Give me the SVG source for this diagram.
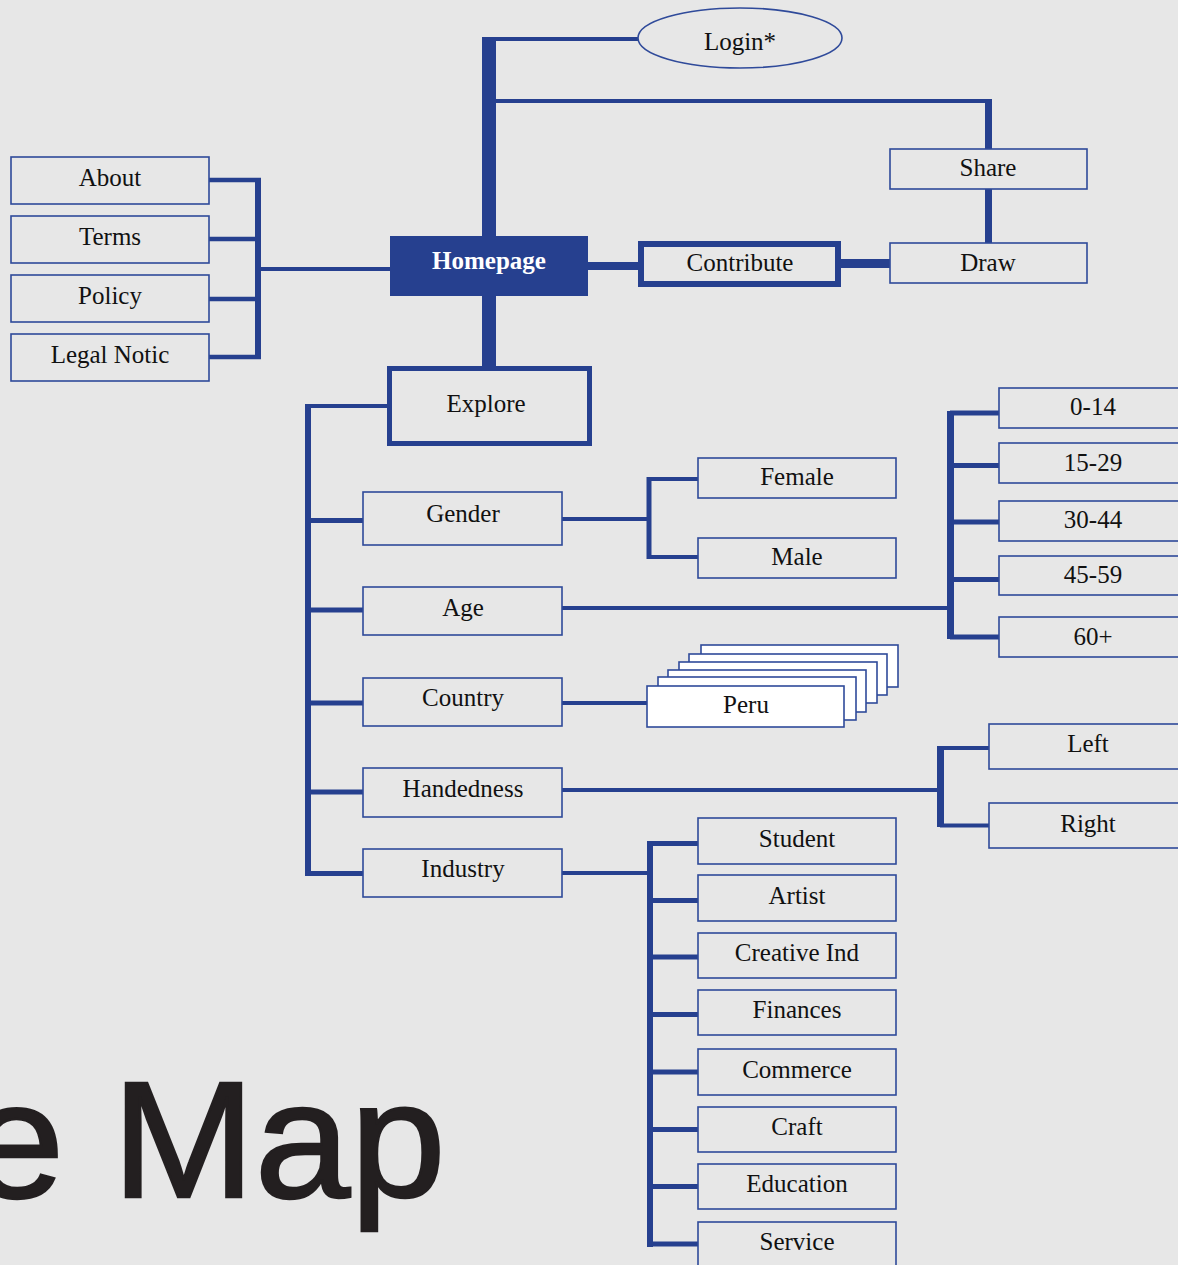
<svg xmlns="http://www.w3.org/2000/svg" width="1178" height="1265" viewBox="0 0 1178 1265">
<style>
.bg{fill:#e7e7e7}
.box{fill:none;stroke:#2f4a9a;stroke-width:1.6}
.card{fill:#ffffff;stroke:#2f4a9a;stroke-width:1.6}
.t{font-family:"Liberation Serif","Times New Roman",serif;font-size:25px;fill:#111;text-anchor:middle}
.c{stroke:#26408f;fill:none;stroke-linecap:butt}
.big{font-family:"Liberation Sans",Arial,sans-serif;font-size:165px;fill:#231f20;stroke:#231f20;stroke-width:2.5}
</style>
<rect class="bg" x="0" y="0" width="1178" height="1265"/>

<g id="connectors">
  <line class="c" x1="489" y1="37" x2="489" y2="237" stroke-width="14"/>
  <line class="c" x1="482" y1="39" x2="638" y2="39" stroke-width="4"/>
  <polyline class="c" points="489,101 988.5,101 988.5,149" stroke-width="4"/>
  <line class="c" x1="988.5" y1="99" x2="988.5" y2="149" stroke-width="7"/>
  <line class="c" x1="988.5" y1="189" x2="988.5" y2="243" stroke-width="7"/>
  <line class="c" x1="588" y1="266" x2="638" y2="266" stroke-width="8"/>
  <line class="c" x1="841" y1="263.5" x2="890" y2="263.5" stroke-width="9"/>
  <line class="c" x1="489" y1="296" x2="489" y2="367" stroke-width="14"/>
  <line class="c" x1="258" y1="269" x2="390" y2="269" stroke-width="4"/>
  <line class="c" x1="258" y1="178" x2="258" y2="359" stroke-width="6"/>
  <line class="c" x1="209" y1="180" x2="261" y2="180" stroke-width="4.5"/>
  <line class="c" x1="209" y1="239" x2="261" y2="239" stroke-width="4.5"/>
  <line class="c" x1="209" y1="299" x2="261" y2="299" stroke-width="4.5"/>
  <line class="c" x1="209" y1="357" x2="261" y2="357" stroke-width="4.5"/>
  <line class="c" x1="308" y1="404" x2="308" y2="876" stroke-width="6"/>
  <line class="c" x1="305" y1="406" x2="388" y2="406" stroke-width="4"/>
  <line class="c" x1="308" y1="520.5" x2="363" y2="520.5" stroke-width="5"/>
  <line class="c" x1="308" y1="610" x2="363" y2="610" stroke-width="5"/>
  <line class="c" x1="308" y1="703" x2="363" y2="703" stroke-width="5"/>
  <line class="c" x1="308" y1="792" x2="363" y2="792" stroke-width="5"/>
  <line class="c" x1="308" y1="873.5" x2="363" y2="873.5" stroke-width="5"/>
  <line class="c" x1="562" y1="519" x2="650" y2="519" stroke-width="4"/>
  <line class="c" x1="649" y1="477" x2="649" y2="559" stroke-width="5"/>
  <line class="c" x1="649" y1="479" x2="698" y2="479" stroke-width="4"/>
  <line class="c" x1="649" y1="557" x2="698" y2="557" stroke-width="4"/>
  <line class="c" x1="562" y1="608" x2="951" y2="608" stroke-width="4"/>
  <line class="c" x1="950.5" y1="411" x2="950.5" y2="639" stroke-width="7"/>
  <line class="c" x1="950" y1="413" x2="999" y2="413" stroke-width="5"/>
  <line class="c" x1="950" y1="465.5" x2="999" y2="465.5" stroke-width="5"/>
  <line class="c" x1="950" y1="522" x2="999" y2="522" stroke-width="5"/>
  <line class="c" x1="950" y1="579.5" x2="999" y2="579.5" stroke-width="5"/>
  <line class="c" x1="950" y1="637" x2="999" y2="637" stroke-width="5"/>
  <line class="c" x1="562" y1="703" x2="648" y2="703" stroke-width="4"/>
  <line class="c" x1="562" y1="790" x2="941" y2="790" stroke-width="4"/>
  <line class="c" x1="940.5" y1="746" x2="940.5" y2="827" stroke-width="7"/>
  <line class="c" x1="940" y1="748" x2="989" y2="748" stroke-width="4"/>
  <line class="c" x1="940" y1="825.5" x2="989" y2="825.5" stroke-width="4"/>
  <line class="c" x1="562" y1="873" x2="650" y2="873" stroke-width="4"/>
  <line class="c" x1="650" y1="841" x2="650" y2="1247" stroke-width="6"/>
  <line class="c" x1="650" y1="843.5" x2="698" y2="843.5" stroke-width="5"/>
  <line class="c" x1="650" y1="900.5" x2="698" y2="900.5" stroke-width="5"/>
  <line class="c" x1="650" y1="957" x2="698" y2="957" stroke-width="5"/>
  <line class="c" x1="650" y1="1014.5" x2="698" y2="1014.5" stroke-width="5"/>
  <line class="c" x1="650" y1="1072" x2="698" y2="1072" stroke-width="5"/>
  <line class="c" x1="650" y1="1129.5" x2="698" y2="1129.5" stroke-width="5"/>
  <line class="c" x1="650" y1="1186.5" x2="698" y2="1186.5" stroke-width="5"/>
  <line class="c" x1="650" y1="1244" x2="698" y2="1244" stroke-width="5"/>
</g>

<g id="login"><ellipse cx="740" cy="38" rx="102" ry="30" class="box" stroke-width="1.3"/><text class="t" x="740" y="50">Login*</text></g>
<g id="homepage"><rect x="390" y="236" width="198" height="60" fill="#26408f"/><text class="t" x="489" y="269" font-weight="bold" style="fill:#fff">Homepage</text></g>
<g id="contribute"><rect x="641" y="244" width="197" height="40" fill="none" stroke="#26408f" stroke-width="6"/><text class="t" x="740" y="271">Contribute</text></g>
<g id="share"><rect class="box" x="890" y="149" width="197" height="40"/><text class="t" x="988" y="176">Share</text></g>
<g id="draw"><rect class="box" x="890" y="243" width="197" height="40"/><text class="t" x="988" y="271">Draw</text></g>

<g id="about"><rect class="box" x="11" y="157" width="198" height="47"/><text class="t" x="110" y="186">About</text></g>
<g id="terms"><rect class="box" x="11" y="216" width="198" height="47"/><text class="t" x="110" y="245">Terms</text></g>
<g id="policy"><rect class="box" x="11" y="275" width="198" height="47"/><text class="t" x="110" y="304">Policy</text></g>
<g id="legal"><rect class="box" x="11" y="334" width="198" height="47"/><text class="t" x="110" y="363">Legal Notic</text></g>

<g id="explore"><rect x="389.5" y="368.5" width="200" height="75" fill="none" stroke="#26408f" stroke-width="5"/><text class="t" x="486" y="412">Explore</text></g>
<g id="gender"><rect class="box" x="363" y="492" width="199" height="53"/><text class="t" x="463" y="522">Gender</text></g>
<g id="age"><rect class="box" x="363" y="587" width="199" height="48"/><text class="t" x="463" y="616">Age</text></g>
<g id="country"><rect class="box" x="363" y="678" width="199" height="48"/><text class="t" x="463" y="706">Country</text></g>
<g id="handedness"><rect class="box" x="363" y="768" width="199" height="49"/><text class="t" x="463" y="797">Handedness</text></g>
<g id="industry"><rect class="box" x="363" y="849" width="199" height="48"/><text class="t" x="463" y="877">Industry</text></g>

<g id="female"><rect class="box" x="698" y="458" width="198" height="40"/><text class="t" x="797" y="485">Female</text></g>
<g id="male"><rect class="box" x="698" y="538" width="198" height="40"/><text class="t" x="797" y="565">Male</text></g>

<g id="age-0-14"><rect class="box" x="999" y="388" width="198" height="40"/><text class="t" x="1093" y="415">0-14</text></g>
<g id="age-15-29"><rect class="box" x="999" y="443" width="198" height="40"/><text class="t" x="1093" y="471">15-29</text></g>
<g id="age-30-44"><rect class="box" x="999" y="501" width="198" height="40"/><text class="t" x="1093" y="528">30-44</text></g>
<g id="age-45-59"><rect class="box" x="999" y="556" width="198" height="39"/><text class="t" x="1093" y="583">45-59</text></g>
<g id="age-60"><rect class="box" x="999" y="617" width="198" height="40"/><text class="t" x="1093" y="645">60+</text></g>

<g id="peru">
  <rect class="card" x="701" y="645" width="197" height="42"/>
  <rect class="card" x="689" y="654" width="198" height="41"/>
  <rect class="card" x="679" y="662" width="198" height="41"/>
  <rect class="card" x="668" y="670" width="198" height="42"/>
  <rect class="card" x="658" y="677" width="198" height="43"/>
  <rect class="card" x="647" y="686" width="197" height="41"/>
  <text class="t" x="746" y="713">Peru</text>
</g>

<g id="left"><rect class="box" x="989" y="724" width="198" height="45"/><text class="t" x="1088" y="752">Left</text></g>
<g id="right"><rect class="box" x="989" y="803" width="198" height="45"/><text class="t" x="1088" y="832">Right</text></g>

<g id="student"><rect class="box" x="698" y="818" width="198" height="46"/><text class="t" x="797" y="847">Student</text></g>
<g id="artist"><rect class="box" x="698" y="875" width="198" height="46"/><text class="t" x="797" y="904">Artist</text></g>
<g id="creative"><rect class="box" x="698" y="933" width="198" height="45"/><text class="t" x="797" y="961">Creative Ind</text></g>
<g id="finances"><rect class="box" x="698" y="990" width="198" height="45"/><text class="t" x="797" y="1018">Finances</text></g>
<g id="commerce"><rect class="box" x="698" y="1049" width="198" height="46"/><text class="t" x="797" y="1078">Commerce</text></g>
<g id="craft"><rect class="box" x="698" y="1107" width="198" height="45"/><text class="t" x="797" y="1135">Craft</text></g>
<g id="education"><rect class="box" x="698" y="1164" width="198" height="45"/><text class="t" x="797" y="1192">Education</text></g>
<g id="service"><rect class="box" x="698" y="1222" width="198" height="46"/><text class="t" x="797" y="1250">Service</text></g>

<text class="big" x="-30" y="1197" transform="scale(1.04,1)">e Map</text>
</svg>
